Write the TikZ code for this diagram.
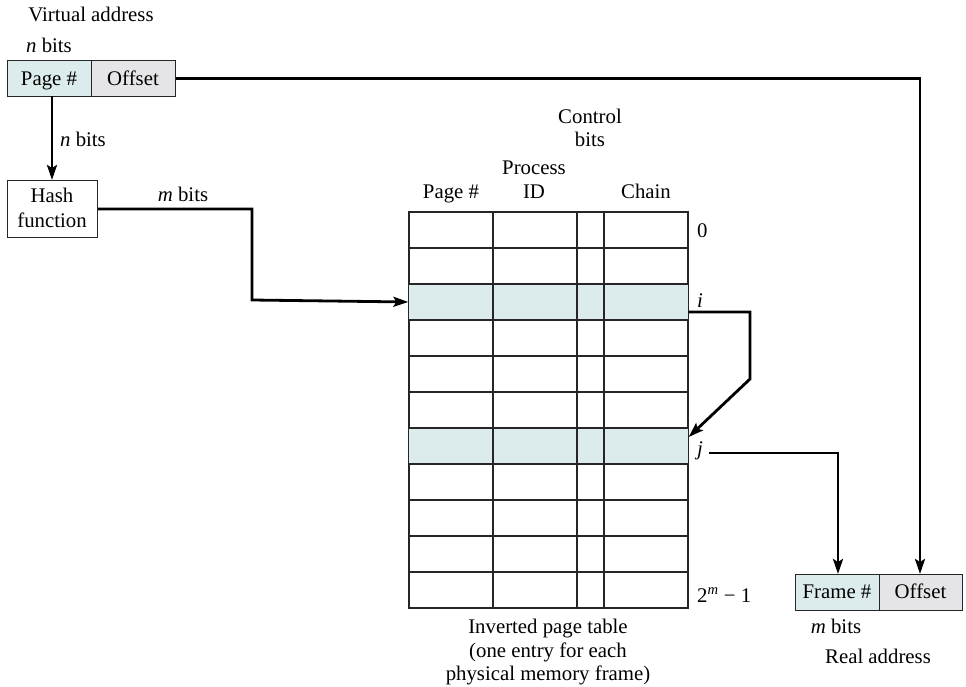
\documentclass[tikz,border=0pt]{standalone}
\usepackage{fontspec}
\setmainfont{Liberation Serif}
\usetikzlibrary{arrows.meta}
\definecolor{teal}{RGB}{220,236,236}
\definecolor{offgray}{RGB}{229,229,231}
\begin{document}
\begin{tikzpicture}[x=1pt,y=-1pt,
  font=\fontsize{20.8}{23}\selectfont,
  lbl/.style={inner sep=0pt,anchor=base},
  fld/.style={draw=black!85,line width=1.2pt,minimum height=36pt,inner sep=0pt,anchor=north west},
  rowcell/.style={draw=black!85,line width=1.3pt,minimum width=279pt,minimum height=36pt,inner sep=0pt},
  conn/.style={line width=2.8pt,-{Stealth[length=15pt,width=10pt,inset=3pt]}},
  plainline/.style={line width=2.8pt}]
\useasboundingbox (0,0) rectangle (966,687);
% virtual address
\node[lbl] (va) at (91,22) {Virtual address};
\node[lbl] (nb1) at (49,53) {\textit{n} bits};
\node[fld,fill=teal,minimum width=84pt] (vpage) at (7,60) {};
\node[lbl] (vpaget) at (49,86) {Page \#};
\node[fld,fill=offgray,minimum width=84pt] (voff) at (91,60) {};
\node[lbl] (vofft) at (133,86) {Offset};
% hash
\node[draw=black!85,line width=1.2pt,minimum width=90pt,minimum height=57pt,inner sep=0pt,anchor=north west,align=center] (hash) at (7,180) {};
\node[lbl] (hash1) at (52,203) {Hash};
\node[lbl] (hash2) at (52,227) {function};
\node[lbl] (nb2) at (83,147) {\textit{n} bits};
\node[lbl] (mb1) at (183,202) {\textit{m} bits};
% table
\foreach \k in {0,...,10}{
  \node[rowcell] (r\k) at (548.5,{230+36*\k}) {};
}
\fill[teal] (r2.north west) rectangle (r2.south east);
\fill[teal] (r6.north west) rectangle (r6.south east);
\foreach \k in {0,...,10}{
  \draw[draw=black!85,line width=1.3pt] (r\k.north west) rectangle (r\k.south east);
}
\foreach \x in {493,577,604}{
  \draw[draw=black!85,line width=1.3pt] (\x,212) -- (\x,608);
}
\node[lbl] (h1) at (451,199) {Page \#};
\node[lbl] (h2a) at (534,175) {Process};
\node[lbl] (h2b) at (534,199) {ID};
\node[lbl] (h3a) at (590,124) {Control};
\node[lbl] (h3b) at (590,147) {bits};
\node[lbl] (h4) at (646,199) {Chain};
\node[lbl,anchor=base west] (l0) at (697,237) {0};
\node[lbl,anchor=base west] (li) at (697,307) {\textit{i}};
\node[lbl,anchor=base west] (lj) at (697,455) {\textit{j}};
\node[lbl,anchor=base west] (lm) at (697,602) {2\textsuperscript{\textit{m}} − 1};
\node[lbl] (cap1) at (548,633) {Inverted page table};
\node[lbl] (cap2) at (548,657) {(one entry for each};
\node[lbl] (cap3) at (548,680) {physical memory frame)};
% real address
\node[fld,fill=teal,minimum width=84pt] (rframe) at (795,574) {};
\node[lbl] (rframet) at (837,598) {Frame \#};
\node[fld,fill=offgray,minimum width=83pt] (roff) at (879,574) {};
\node[lbl] (rofft) at (920.5,598) {Offset};
\node[lbl] (mb2) at (836,633) {\textit{m} bits};
\node[lbl] (ra) at (878,663) {Real address};
% connectors
\coordinate (vpb) at (52,96);
\draw[conn] (vpb) -- (vpb |- hash.north);
\draw[conn] (hash.east |- 0,209) -| (252,300) -- (r2.west);
\draw[conn] ([yshift=-10pt]r2.east) -| (750,379) -- ([yshift=9pt]r6.east);
\coordinate (jstart) at (709,453);
\draw[conn] (jstart) -| (rframe.north -| 838,0);
\draw[conn] (voff.east) -| (roff.north -| 920,0);
\end{tikzpicture}
\end{document}
